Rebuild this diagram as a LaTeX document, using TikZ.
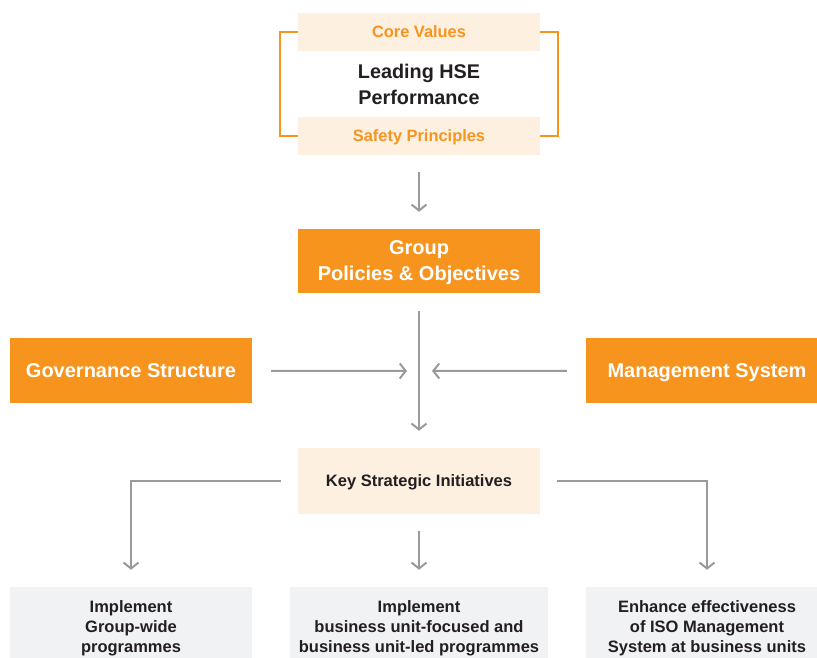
\documentclass[tikz,border=0pt]{standalone}
\usepackage{fontspec}
\setmainfont{Liberation Sans}
\usetikzlibrary{arrows.meta}
\definecolor{hseorange}{HTML}{F7941D}
\definecolor{hsepeach}{HTML}{FDF0E1}
\definecolor{hsegray}{HTML}{9A9A9C}
\definecolor{hsebox}{HTML}{F1F2F4}
\definecolor{hsetext}{HTML}{231F20}
\begin{document}
\begin{tikzpicture}[
	x=1pt, y=-1pt,
	band/.style={fill=hsepeach, text=hseorange, minimum width=242pt, minimum height=38pt, inner sep=0pt,
		text height=11.7pt, text depth=0pt, font=\bfseries\fontsize{16.4}{18}\selectfont},
	orangebox/.style={fill=hseorange, text=white, align=center, minimum width=242pt, minimum height=64pt, inner sep=0pt,
		font=\bfseries\fontsize{20}{26}\selectfont},
	greybox/.style={fill=hsebox, text=hsetext, align=center, minimum height=80pt, inner sep=0pt,
		font=\bfseries\fontsize{16.5}{20}\selectfont},
	edge/.style={draw=hsegray, line width=2pt, -{Straight Barb[length=6pt, width=15pt, line width=2pt]}},
	line/.style={draw=hsegray, line width=2pt}
]
\clip (0,0) rectangle (817,657);

% Top block
\node[band] (core) at (419,32) {Core Values};
\node[text=hsetext, align=center, font=\bfseries\fontsize{19.8}{26}\selectfont] (hse) at (419,84) {Leading HSE\\Performance};
\node[band] (safety) at (419,136) {Safety Principles};
\draw[hseorange, line width=2pt] (core.west) -- ++(-18,0) |- (safety.west);
\draw[hseorange, line width=2pt] (core.east) -- ++(18,0) |- (safety.east);

% Middle row
\node[orangebox, text depth=-8pt] (group) at (419,261) {Group\\Policies \& Objectives};
\node[orangebox, minimum height=65pt, text height=14.3pt, text depth=0pt] (governance) at (131,370.5) {Governance Structure};
\node[orangebox, minimum height=65pt, text height=14.3pt, text depth=0pt] (management) at (707,370.5) {Management System};
\node[band, minimum height=66pt, text=hsetext, text height=11.8pt, font=\bfseries\fontsize{16.5}{18}\selectfont] (key) at (419,481) {Key Strategic Initiatives};
\coordinate (hub) at (419,371);

% Bottom row
\node[greybox, minimum width=242pt, text depth=-1pt] (groupwide) at (131,627) {Implement\\Group-wide\\programmes};
\node[greybox, minimum width=258pt, text depth=-1pt] (unitled) at (419,627) {Implement\\business unit-focused and\\business unit-led programmes};
\node[greybox, minimum width=242pt, text depth=-2pt] (iso) at (707,627) {Enhance effectiveness\\of ISO Management\\System at business units};

% Edges
\draw[edge, shorten <=17pt, shorten >=17pt] (safety) -- (group);
\draw[edge, shorten <=18pt, shorten >=17pt] (group) -- (key);
\draw[edge, shorten <=19pt, shorten >=12pt] (governance) -- (hub);
\draw[edge, shorten <=19pt, shorten >=13pt] (management) -- (hub);
\draw[edge, shorten <=17pt, shorten >=17pt] (key.west) -| (groupwide.north);
\draw[edge, shorten <=17pt, shorten >=17pt] (key) -- (unitled);
\draw[edge, shorten <=17pt, shorten >=17pt] (key.east) -| (iso.north);

\end{tikzpicture}
\end{document}
